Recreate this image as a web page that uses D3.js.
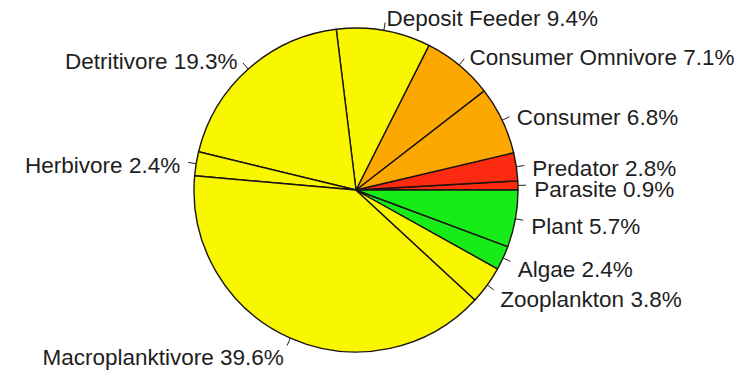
<!DOCTYPE html>
<html>
<head>
<meta charset="utf-8">
<script src="https://cdn.jsdelivr.net/npm/d3@7"></script>
<style>
  html, body { margin: 0; padding: 0; background: #ffffff; }
  svg { display: block; }
  text { font-family: "Liberation Sans", Arial, Helvetica, sans-serif; }
</style>
</head>
<body>
<svg id="chart" width="751" height="373"></svg>
<script>
// Feeding groups, in drawing order (counter-clockwise from 3 o'clock)
const groups = ["Parasite", "Predator", "Consumer", "Consumer Omnivore", "Deposit Feeder",
                "Detritivore", "Herbivore", "Macroplanktivore", "Zooplankton", "Algae", "Plant"];
const shares = [0.9, 2.8, 6.8, 7.1, 9.4, 19.3, 2.4, 39.6, 3.8, 2.4, 5.7];
const sliceColors = ["#fb2a10", "#fb2a10", "#fca800", "#fca800", "#f9f700",
                     "#f9f700", "#f9f700", "#f9f700", "#f9f700", "#18ec18", "#18ec18"];

const data = groups.map((g, i) => ({ group: g, share: shares[i], color: sliceColors[i] }));

const cx = 356, cy = 190, r = 162;
const svg = d3.select("#chart");
const g = svg.append("g").attr("transform", `translate(${cx},${cy})`);

// Start at 3 o'clock and run counter-clockwise
const pie = d3.pie()
  .value(d => d.share)
  .sort(null)
  .startAngle(Math.PI / 2)
  .endAngle(Math.PI / 2 - 2 * Math.PI);

const arcs = pie(data);
const arc = d3.arc().innerRadius(0).outerRadius(r);

g.selectAll("path.slice")
  .data(arcs)
  .join("path")
  .attr("class", "slice")
  .attr("d", arc)
  .attr("fill", d => d.data.color)
  .attr("stroke", "#1c1410")
  .attr("stroke-width", 1.4)
  .attr("stroke-linejoin", "round");

const mid = d => (d.startAngle + d.endAngle) / 2;
const px = (a, rr) => Math.sin(a) * rr;
const py = (a, rr) => -Math.cos(a) * rr;

// Short leader ticks
g.selectAll("line.tick")
  .data(arcs)
  .join("line")
  .attr("class", "tick")
  .attr("x1", d => px(mid(d), r))
  .attr("y1", d => py(mid(d), r))
  .attr("x2", d => px(mid(d), r * 1.05))
  .attr("y2", d => py(mid(d), r * 1.05))
  .attr("stroke", "#222")
  .attr("stroke-width", 1);

// Labels
g.selectAll("text.label")
  .data(arcs)
  .join("text")
  .attr("class", "label")
  .attr("x", d => px(mid(d), r * 1.1))
  .attr("y", d => py(mid(d), r * 1.1))
  .attr("dy", 12)
  .attr("text-anchor", d => px(mid(d), 1) < 0 ? "end" : "start")
  .attr("font-size", "22.5px")
  .attr("fill", "#1e1e1e")
  .text(d => `${d.data.group} ${d.data.share.toFixed(1)}%`);
</script>
</body>
</html>
